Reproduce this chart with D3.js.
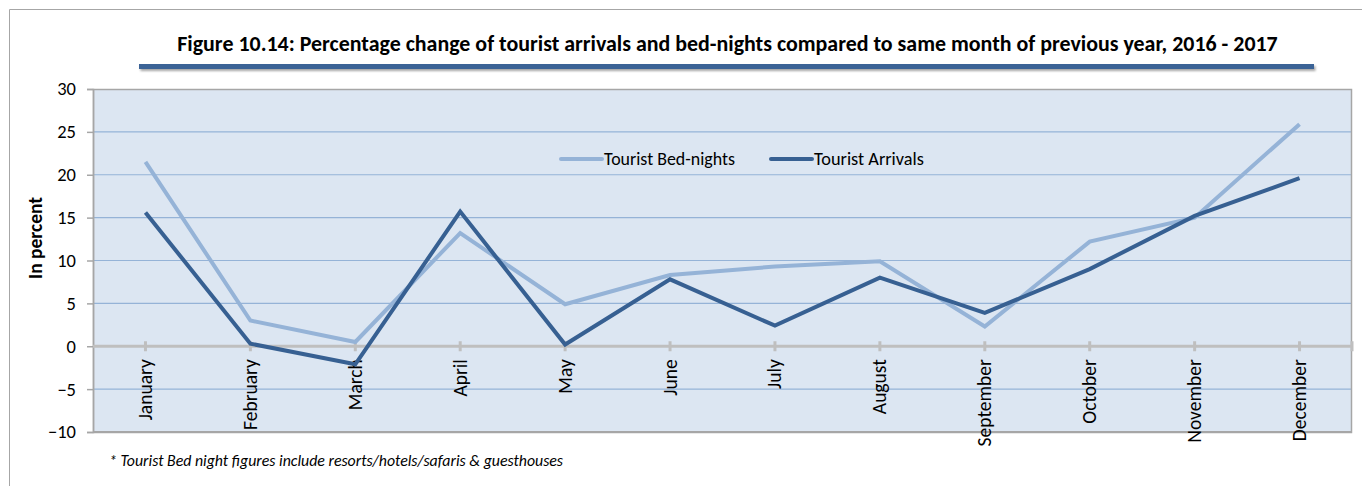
<!DOCTYPE html>
<html><head><meta charset="utf-8">
<script src="https://cdn.jsdelivr.net/npm/d3@7"></script>
<style>body{margin:0;background:#fff}svg{display:block}</style>
</head><body>
<svg id="c" width="1362" height="486"></svg>
<script>
const months = ["January","February","March","April","May","June","July","August","September","October","November","December"];
const bedNights = [21.5, 3.0, 0.5, 13.2, 4.9, 8.3, 9.3, 9.9, 2.3, 12.2, 15.0, 25.9];
const arrivals = [15.6, 0.3, -2.1, 15.7, 0.2, 7.8, 2.4, 8.0, 3.9, 9.0, 15.2, 19.6];
const yTicks = [-10, -5, 0, 5, 10, 15, 20, 25, 30];
const seriesNames = ["Tourist Bed-nights", "Tourist Arrivals"];
const titleText = "Figure 10.14: Percentage change of tourist arrivals and bed-nights compared to same month of previous year, 2016 - 2017";
const footText = "* Tourist Bed night figures include resorts/hotels/safaris & guesthouses";

const FONT = "Carlito, Calibri, 'Open Sans', sans-serif";
const svg = d3.select("#c");
const L = 93, R = 1352, T = 89, B = 432;
const x = d3.scaleBand().domain(months).range([L, R]);
const xc = m => x(m) + x.bandwidth() / 2;
const y = d3.scaleLinear().domain([-10, 30]).range([B, T]);
const cBed = "#95b3d7", cArr = "#376092";

// outer frame
svg.append("path").attr("d", "M9.5,486 V9.5 H1362").attr("fill", "none").attr("stroke", "#a6a6a6").attr("stroke-width", 1);

function fit(sel, w) {
  const n = sel.node();
  let fs = parseFloat(sel.attr("font-size"));
  const cur = n.getComputedTextLength();
  sel.attr("font-size", (fs * w / cur).toFixed(2));
}

// title
const title = svg.append("text").attr("x", 727.5).attr("y", 51).attr("text-anchor", "middle")
  .attr("font-family", FONT).attr("font-weight", "bold").attr("font-size", 16).attr("fill", "#000").text(titleText);
fit(title, 1101);
// underline bar with shadow
const defs = svg.append("defs");
const f = defs.append("filter").attr("id", "sh").attr("x", "-5%").attr("y", "-100%").attr("width", "110%").attr("height", "400%");
f.append("feDropShadow").attr("dx", 1.5).attr("dy", 2).attr("stdDeviation", 1.2).attr("flood-color", "#000").attr("flood-opacity", 0.35);
svg.append("rect").attr("x", 139).attr("y", 64).attr("width", 1175).attr("height", 5).attr("fill", "#3b6496").attr("filter", "url(#sh)");

// plot bg
svg.append("rect").attr("x", L).attr("y", T).attr("width", R - L).attr("height", B - T).attr("fill", "#dce6f2");
// gridlines
svg.append("g").selectAll("line").data(yTicks.filter(v => v !== 0 && v !== -10 && v !== 30)).join("line")
  .attr("x1", L).attr("x2", R).attr("y1", d => y(d)).attr("y2", d => y(d)).attr("stroke", "#95b3d7").attr("stroke-width", 1.2);
// plot border
svg.append("rect").attr("x", L + 0.5).attr("y", T + 0.5).attr("width", R - L - 1).attr("height", B - T).attr("fill", "none").attr("stroke", "#a6a6a6").attr("stroke-width", 1.5);
svg.append("line").attr("x1", L).attr("x2", R).attr("y1", B).attr("y2", B).attr("stroke", "#a6a6a6").attr("stroke-width", 2);

// y axis
const ya = svg.append("g").attr("transform", `translate(${L},0)`)
  .call(d3.axisLeft(y).tickValues(yTicks).tickSize(6).tickPadding(11));
ya.select(".domain").attr("stroke", "#a6a6a6").attr("stroke-width", 1.5);
ya.selectAll(".tick line").attr("stroke", "#a6a6a6").attr("stroke-width", 1.5);
ya.selectAll(".tick text").attr("font-family", FONT).attr("font-size", 18.5).attr("fill", "#000");

// y title
const yt = svg.append("text").attr("transform", "translate(42,238) rotate(-90)").attr("text-anchor", "middle")
  .attr("font-family", FONT).attr("font-weight", "bold").attr("font-size", 15.5).attr("fill", "#000").text("In percent");
fit(yt, 82);

// zero axis
svg.append("line").attr("x1", L).attr("x2", R).attr("y1", y(0)).attr("y2", y(0)).attr("stroke", "#bfbfbf").attr("stroke-width", 3);
const zticks = months.map(xc).concat([R]);
svg.append("g").selectAll("line").data(zticks).join("line")
  .attr("x1", d => d).attr("x2", d => d).attr("y1", y(0) - 5).attr("y2", y(0) + 5).attr("stroke", "#bfbfbf").attr("stroke-width", 3);

// x labels
svg.append("g").selectAll("text").data(months).join("text")
  .attr("transform", d => `translate(${xc(d) + 6.5},${y(0) + 13}) rotate(-90)`)
  .attr("text-anchor", "end").attr("font-family", FONT).attr("font-size", 19.5).attr("fill", "#000").text(d => d);

// lines
const line = d3.line().x((d, i) => xc(months[i])).y(d => y(d));
svg.append("path").datum(bedNights).attr("d", line).attr("fill", "none").attr("stroke", cBed).attr("stroke-width", 4).attr("stroke-linejoin", "miter");
svg.append("path").datum(arrivals).attr("d", line).attr("fill", "none").attr("stroke", cArr).attr("stroke-width", 4).attr("stroke-linejoin", "miter");

// legend
const leg = [{n: seriesNames[0], c: cBed, x: 561}, {n: seriesNames[1], c: cArr, x: 771}];
leg.forEach(l => {
  svg.append("line").attr("x1", l.x).attr("x2", l.x + 41).attr("y1", 159).attr("y2", 159).attr("stroke", l.c).attr("stroke-width", 4).attr("stroke-linecap", "round");
  const t = svg.append("text").attr("x", l.x + 43).attr("y", 165).attr("font-family", FONT).attr("font-size", 15.5).attr("fill", "#000").text(l.n);
  fit(t, l.n === seriesNames[0] ? 131 : 110);
});

// footnote
const ft = svg.append("text").attr("x", 109).attr("y", 466).attr("font-family", FONT).attr("font-style", "italic").attr("font-size", 13).attr("fill", "#000").text(footText);
fit(ft, 454);
</script>
</body></html>
